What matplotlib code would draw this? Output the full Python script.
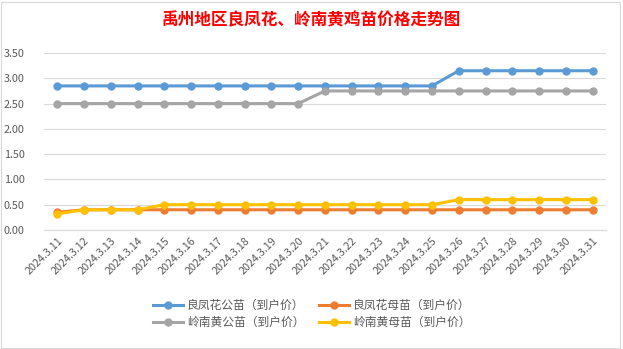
import matplotlib
matplotlib.use("Agg")
import matplotlib.pyplot as plt

plt.rcParams['font.family'] = ['Noto Sans CJK SC', 'DejaVu Sans']

# =========================
# DATA
# =========================
dates = ["2024.3.11", "2024.3.12", "2024.3.13", "2024.3.14", "2024.3.15", "2024.3.16",
         "2024.3.17", "2024.3.18", "2024.3.19", "2024.3.20", "2024.3.21", "2024.3.22",
         "2024.3.23", "2024.3.24", "2024.3.25", "2024.3.26", "2024.3.27", "2024.3.28",
         "2024.3.29", "2024.3.30", "2024.3.31"]

lfh_male = [2.85] * 15 + [3.15] * 6
lfh_female = [0.35] + [0.40] * 20
ln_male = [2.50] * 10 + [2.75] * 11
ln_female = [0.32, 0.40, 0.40, 0.40] + [0.50] * 11 + [0.60] * 6

series = [
    ("良凤花公苗（到户价）", lfh_male, "#5B9BD5"),
    ("良凤花母苗（到户价）", lfh_female, "#ED7D31"),
    ("岭南黄公苗（到户价）", ln_male, "#A5A5A5"),
    ("岭南黄母苗（到户价）", ln_female, "#FFC000"),
]

# =========================
# PLOT
# =========================
fig = plt.figure(figsize=(6.23, 3.49), dpi=100)
ax = fig.add_axes([0.0706, 0.341, 0.902, 0.507])

x = list(range(len(dates)))
lines = []
for name, vals, color in series:
    ln, = ax.plot(x, vals, color=color, linewidth=2.2, marker="o", markersize=5, label=name)
    lines.append(ln)

ax.set_xlim(-0.5, len(dates) - 0.5)
ax.set_ylim(0, 3.5)
ax.set_yticks([0, 0.5, 1, 1.5, 2, 2.5, 3, 3.5])
ax.set_yticklabels([f"{v:.2f}" for v in ax.get_yticks()])
ax.set_xticks(x)
ax.set_xticklabels(dates, rotation=45, ha="right", rotation_mode="anchor")
ax.tick_params(axis="both", length=0, labelsize=7.8, colors="#595959", pad=4)
ax.tick_params(axis="y", pad=14)
ax.grid(axis="y", color="#D9D9D9", linewidth=0.8)
ax.set_axisbelow(True)
for side in ["top", "right", "left"]:
    ax.spines[side].set_visible(False)
ax.spines["bottom"].set_color("#D9D9D9")

fig.text(0.5, 0.942, "禹州地区良凤花、岭南黄鸡苗价格走势图", ha="center", va="center",
         fontsize=12, color="red", fontweight="bold")

# legend fills by column, so order gives rows: 良凤花 pair, then 岭南黄 pair
order = [0, 2, 1, 3]
fig.legend([lines[i] for i in order], [series[i][0] for i in order],
           loc="center", bbox_to_anchor=(0.5, 0.1), ncol=2, frameon=False,
           fontsize=8.5, labelcolor="#595959", handlelength=2.6, columnspacing=1.2,
           handletextpad=0.3, labelspacing=0.3)

# chart border
fig.patches.append(plt.Rectangle((0.002, 0.004), 0.993, 0.99, transform=fig.transFigure,
                                 fill=False, edgecolor="#D9D9D9", linewidth=0.8))

fig.savefig("out.png", dpi=100)
